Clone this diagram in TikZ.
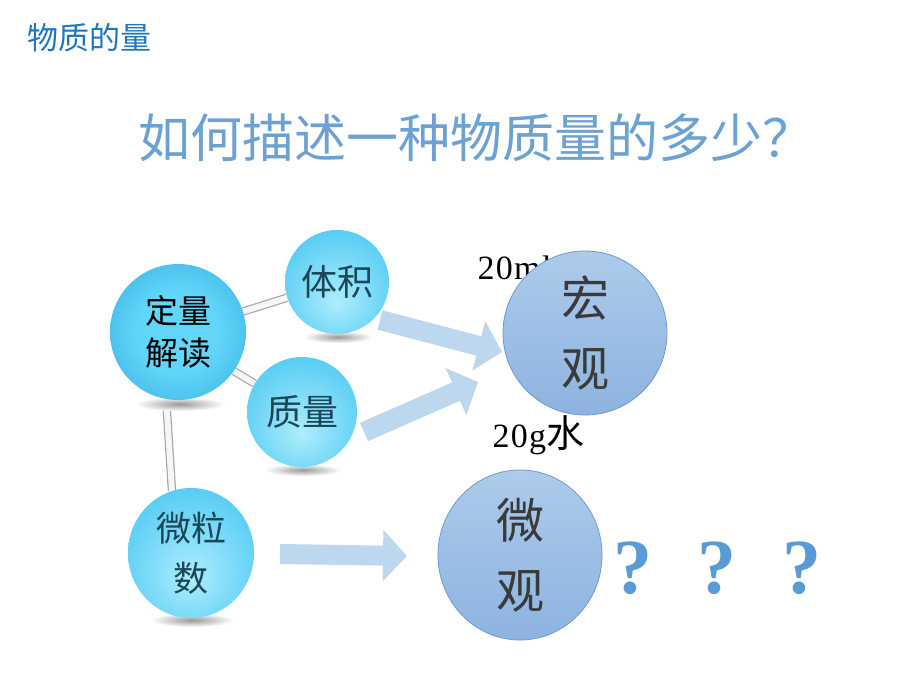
\documentclass[tikz,border=0pt]{standalone}
\usepackage{fontspec}
\newfontfamily\cjk{Noto Sans CJK SC}
\newfontfamily\serifsp[LetterSpace=4]{Liberation Serif}
\newfontfamily\qfont{Liberation Serif}
\usetikzlibrary{arrows.meta,shapes.geometric}
\definecolor{hdrblue}{HTML}{1F77C0}
\definecolor{titleblue}{HTML}{6CA1D3}
\definecolor{arrowblue}{HTML}{BDD7EE}
\definecolor{bigfillT}{HTML}{ADCBEB}
\definecolor{bigfillB}{HTML}{8DB3DF}
\definecolor{bigedge}{HTML}{6D9BD1}
\definecolor{cyanout}{HTML}{58CDF4}
\definecolor{cyanin}{HTML}{AEEDFD}
\definecolor{darkout}{HTML}{1592D2}
\definecolor{darkin}{HTML}{62D6F9}
\definecolor{tealtext}{HTML}{1A4858}
\definecolor{qblue}{HTML}{5B9BD5}
\definecolor{bigtext}{HTML}{3A3A3A}
\pgfdeclareradialshading{lightball}{\pgfpoint{0bp}{-10bp}}{color(0bp)=(cyanin); color(30bp)=(cyanout); color(60bp)=(cyanout)}
\pgfdeclareradialshading{darkball}{\pgfpoint{0bp}{0bp}}{color(0bp)=(darkin); color(15bp)=(darkin); color(50bp)=(darkout); color(60bp)=(darkout)}
\pgfdeclarelayer{bg}
\pgfsetlayers{bg,main}
\tikzset{
  smallball/.style={circle, inner sep=0pt, shading=lightball, align=center, text=tealtext, font=\cjk\fontsize{36}{42}\selectfont},
  bigball/.style={inner sep=0pt, draw=bigedge, line width=0.8pt, top color=bigfillT, bottom color=bigfillB, align=center, text=bigtext, font=\cjk\fontsize{48}{70}\selectfont},
  tube/.style={draw=black!35, line width=1.2pt, double=white!93!gray, double distance=6pt},
  bigarrow/.style={draw=arrowblue, line width=20pt, -{Triangle[length=24pt,width=50pt]}},
  qmark/.style={text=qblue, font=\qfont\bfseries\fontsize{78}{80}\selectfont},
  shadowblob/.style={inner color=black!40, outer color=white}
}
\begin{document}
\begin{tikzpicture}[x=1pt,y=-1pt]
\useasboundingbox (0,0) rectangle (920,690);
\begin{pgfonlayer}{bg}
\fill[white] (0,0) rectangle (920,690);
\end{pgfonlayer}

% header
\node[anchor=west, text=hdrblue, font=\cjk\fontsize{31}{32}\selectfont] (hdr) at (24,38) {物质的量};

% title
\node[text=titleblue, font=\cjk\fontsize{52}{54}\selectfont] (title) at (476,138) {如何描述一种物质量的多少？};

% shadows under balls
\shade[shadowblob] (180,404) ellipse (45 and 7);
\shade[shadowblob] (338,337) ellipse (35 and 6);
\shade[shadowblob] (303,470) ellipse (38 and 6);
\shade[shadowblob] (192,620) ellipse (42 and 7);

% text partly hidden behind 宏观
\node[anchor=west, font=\serifsp\fontsize{34}{36}\selectfont] (ml) at (474,268) {20ml};

% balls
\node[circle, inner sep=0pt, minimum size=136pt, shading=darkball, align=center, text=black, font=\cjk\fontsize{33}{42}\selectfont] (dl) at (178,332) {定量\\解读};
\node[smallball, minimum size=104pt] (tj) at (337,282) {体积};
\node[smallball, minimum size=110pt] (zl) at (302,412) {质量};
\node[smallball, ellipse, minimum width=126pt, minimum height=130pt, font=\cjk\fontsize{35}{50}\selectfont] (wl) at (191,553) {微粒\\数};

\node[bigball, circle, minimum size=164pt] (hg) at (585,333) {宏\\观};
\node[bigball, ellipse, minimum width=164pt, minimum height=170pt] (wg) at (520,555) {微\\观};

\node[anchor=west, font=\serifsp\fontsize{34}{36}\selectfont] (gw) at (489,435) {20g{\cjk\fontsize{38}{38}\selectfont 水}};

% tubes
\begin{pgfonlayer}{bg}
\draw[tube] (dl) -- (tj);
\draw[tube] (dl.-35) -- (zl);
\draw[tube] (dl.-100) -- (wl.107);
\end{pgfonlayer}

% block arrows
\coordinate (a1s) at (380,320);
\coordinate (a1e) at (502,352);
\coordinate (a2s) at (364,432);
\coordinate (a2e) at (478,382);
\coordinate (a3s) at (280,554);
\coordinate (a3e) at (407,556);
\draw[bigarrow] (a1s) -- (a1e);
\draw[bigarrow] (a2s) -- (a2e);
\draw[bigarrow] (a3s) -- (a3e);

% question marks
\node[qmark] (q1) at (633,568) {?};
\node[qmark] (q2) at (717,568) {?};
\node[qmark] (q3) at (802,568) {?};
\end{tikzpicture}
\end{document}
